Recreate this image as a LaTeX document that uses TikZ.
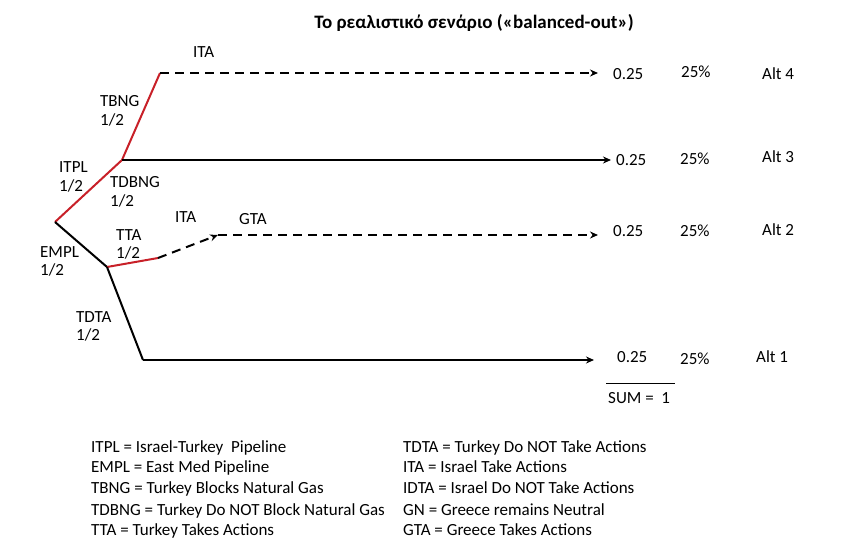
\documentclass[tikz,border=0pt]{standalone}
\usepackage{fontspec}
\setmainfont{Carlito}
\usetikzlibrary{arrows.meta}
\definecolor{branchred}{RGB}{200,32,40}
\tikzset{
  lbl/.style={inner sep=0pt, anchor=west, font=\fontsize{17}{19}\selectfont, text height=11pt, text depth=0pt},
  leg/.style={lbl},
  ttl/.style={inner sep=0pt, font=\bfseries\fontsize{19}{21}\selectfont, text height=12pt, text depth=0pt},
  edge/.style={line width=2pt, black},
  rededge/.style={line width=2pt, branchred},
  dashedge/.style={line width=2pt, black, dash pattern=on 9pt off 6pt},
  tip/.style={-{Stealth[length=8pt,width=7pt]}},
}
\begin{document}
\begin{tikzpicture}[x=1pt,y=-1pt]
\path[use as bounding box, fill=white] (0,0) rectangle (844,555);

% title
\node[ttl] (title) at (474,22) {Το ρεαλιστικό σενάριο («balanced-out»)};

% branch points
\coordinate (R) at (55,222);
\coordinate (A) at (122,160);
\coordinate (B) at (160,73);
\coordinate (C) at (107,267);
\coordinate (D) at (158,258);
\coordinate (E) at (218,235);
\coordinate (F) at (143,360);
\coordinate (e4) at (598,73);
\coordinate (e3) at (611,160);
\coordinate (e2) at (598,235);
\coordinate (e1) at (594,360);

% branches
\draw[rededge] (R) -- (A);
\draw[rededge] (A) -- (B);
\draw[edge] (R) -- (C);
\draw[rededge] (C) -- (D);
\draw[edge] (C) -- (F);
\draw[dashedge, tip] (B) -- (e4);
\draw[edge, tip] (A) -- (e3);
\draw[dashedge, tip] (D) -- (E);
\draw[dashedge, tip] (E) -- (e2);
\draw[edge, tip] (F) -- (e1);

% branch labels
\node[lbl] (ita1) at (193,52) {ITA};
\node[lbl] (tbng) at (100,101) {TBNG};
\node[lbl] (tbngp) at (100,120) {1/2};
\node[lbl] (itpl) at (59,167) {ITPL};
\node[lbl] (itplp) at (59,186) {1/2};
\node[lbl] (tdbng) at (110,182) {TDBNG};
\node[lbl] (tdbngp) at (110,201) {1/2};
\node[lbl] (ita2) at (175,217) {ITA};
\node[lbl] (gta) at (239,219) {GTA};
\node[lbl] (tta) at (116,235) {TTA};
\node[lbl] (ttap) at (116,253) {1/2};
\node[lbl] (empl) at (40,252) {EMPL};
\node[lbl] (emplp) at (40,270) {1/2};
\node[lbl] (tdta) at (76,317) {TDTA};
\node[lbl] (tdtap) at (76,335) {1/2};

% outcomes
\node[lbl] (v4) at (613,74) {0.25};
\node[lbl] (p4) at (681,72) {25\%};
\node[lbl] (a4) at (762,74) {Alt 4};
\node[lbl] (v3) at (616,160) {0.25};
\node[lbl] (p3) at (680,159) {25\%};
\node[lbl] (a3) at (762,157) {Alt 3};
\node[lbl] (v2) at (613,231) {0.25};
\node[lbl] (p2) at (680,231) {25\%};
\node[lbl] (a2) at (762,230) {Alt 2};
\node[lbl] (v1) at (617,357) {0.25};
\node[lbl] (p1) at (680,359) {25\%};
\node[lbl] (a1) at (756,357) {Alt 1};

% sum
\coordinate (s1) at (606,383);
\coordinate (s2) at (675,383);
\draw[line width=1pt] (s1) -- (s2);
\node[lbl] (sum) at (608,398) {SUM =\ \ 1};

% legend
\node[leg] (l1) at (91,447) {ITPL = Israel-Turkey\ \ Pipeline};
\node[leg] (l2) at (91,467) {EMPL = East Med Pipeline};
\node[leg] (l3) at (91,488) {TBNG = Turkey Blocks Natural Gas};
\node[leg] (l4) at (91,510) {TDBNG = Turkey Do NOT Block Natural Gas};
\node[leg] (l5) at (91,530) {TTA = Turkey Takes Actions};
\node[leg] (r1) at (403,447) {TDTA = Turkey Do NOT Take Actions};
\node[leg] (r2) at (403,467) {ITA = Israel Take Actions};
\node[leg] (r3) at (403,488) {IDTA = Israel Do NOT Take Actions};
\node[leg] (r4) at (403,510) {GN = Greece remains Neutral};
\node[leg] (r5) at (403,530) {GTA = Greece Takes Actions};
\end{tikzpicture}
\end{document}
